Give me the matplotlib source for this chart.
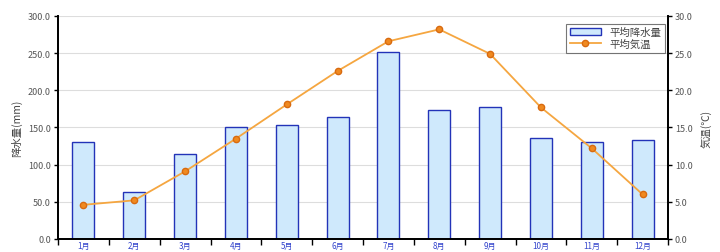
import numpy as np
import matplotlib
matplotlib.use('Agg')
import matplotlib.pyplot as plt

plt.rcParams['font.family'] = ['Noto Sans CJK JP', 'DejaVu Sans']

# monthly data
months = ['1月', '2月', '3月', '4月', '5月', '6月', '7月', '8月', '9月', '10月', '11月', '12月']
rain = [131, 63, 115, 150, 154, 164, 251, 173, 178, 136, 131, 133]
temp = [4.6, 5.2, 9.1, 13.5, 18.1, 22.6, 26.6, 28.2, 24.9, 17.7, 12.2, 6.0]

fig = plt.figure(figsize=(7.2, 2.53), dpi=100)
ax = fig.add_axes([58/720, 13/253, 610/720, 223/253])
ax2 = ax.twinx()

x = np.arange(len(months))
bars = ax.bar(x, rain, width=0.43, color='#cfe9fc', edgecolor='#2333b8', linewidth=1.0,
              label='平均降水量', zorder=2)
line, = ax2.plot(x, temp, color='#f5a640', linewidth=1.3, marker='o', markersize=4.5,
                 markerfacecolor='#f08a20', markeredgecolor='#d86a10', label='平均気温')

ax.set_xlim(-0.5, 11.5)
ax.set_ylim(0, 300)
ax2.set_ylim(0, 30)
ax.set_yticks(np.arange(0, 301, 50))
ax2.set_yticks(np.arange(0, 31, 5))
ax.set_yticklabels(['%.1f' % v for v in np.arange(0, 301, 50)], fontsize=6.5, color='#555555')
ax2.set_yticklabels(['%.1f' % v for v in np.arange(0, 31, 5)], fontsize=6.5, color='#555555')
ax.yaxis.grid(True, color='#dddddd', linewidth=0.8, zorder=0)
ax.set_axisbelow(True)

ax.set_xticks(x)
ax.set_xticklabels(months, fontsize=5.8, color='#3344cc')
ax.set_xticks(np.arange(-0.5, 12, 1), minor=True)
ax.tick_params(axis='x', which='major', length=0, pad=1.5)
ax.tick_params(axis='x', which='minor', length=4, direction='out', width=1)
ax.tick_params(axis='y', length=3, width=1, pad=2)
ax2.tick_params(axis='y', length=3, width=1, pad=2)

for a in (ax, ax2):
    a.spines['top'].set_visible(False)
    a.spines['left'].set_linewidth(1.3)
    a.spines['right'].set_linewidth(1.3)
    a.spines['bottom'].set_linewidth(1.3)

ax.set_ylabel('降水量(mm)', fontsize=7.5, color='#444444', labelpad=4)
ax2.set_ylabel('気温(℃)', fontsize=7.5, color='#444444', labelpad=6)

leg = ax.legend([bars, line], ['平均降水量', '平均気温'], loc='upper right',
                bbox_to_anchor=(1.0, 0.98), fontsize=7.5, frameon=True, fancybox=False,
                edgecolor='#555555', handlelength=3.0, borderpad=0.35, labelspacing=0.15,
                borderaxespad=0.3)
leg.get_frame().set_linewidth(0.8)
for t in leg.get_texts():
    t.set_color('#444444')

fig.savefig('out.png', dpi=100)
